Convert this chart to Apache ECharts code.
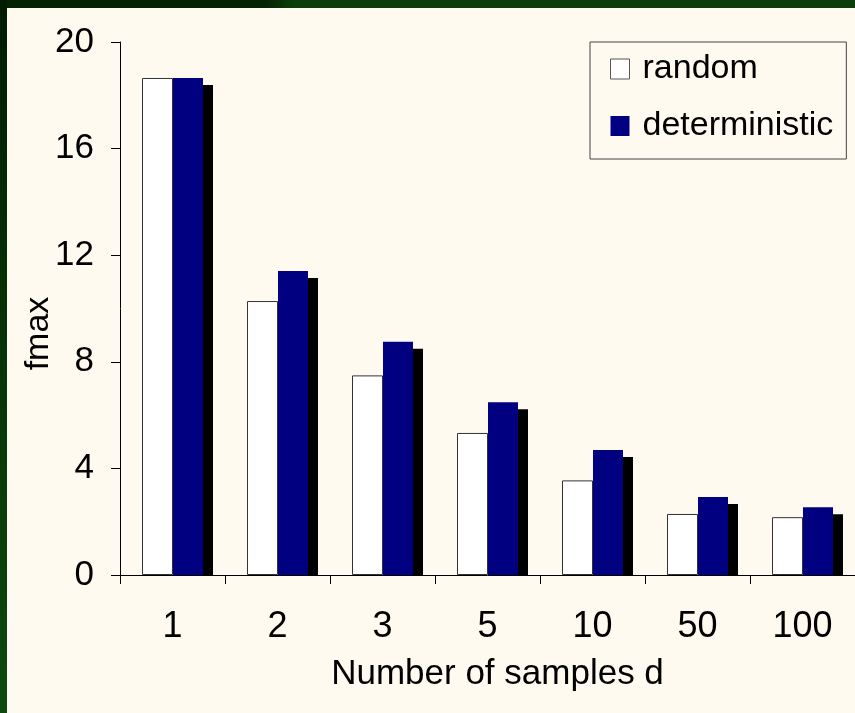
<!DOCTYPE html>
<html>
<head>
<meta charset="utf-8">
<script src="https://cdn.jsdelivr.net/npm/echarts@6/dist/echarts.min.js"></script>
<style>
  html, body { margin: 0; padding: 0; background: #FFFAF0; }
  #wrap { position: relative; width: 855px; height: 713px; overflow: hidden; background: #FFFAF0; }
  #topStrip { position: absolute; left: 0; top: 0; width: 855px; height: 8px;
    background: linear-gradient(100deg, #032303 0, #032303 262px, #0b3e0b 290px, #0b3e0b 100%); }
  #leftStrip { position: absolute; left: 0; top: 0; width: 7px; height: 713px;
    background: linear-gradient(to bottom, #021c02 0%, #073507 50%, #0e4a0e 100%); }
  #chart { position: absolute; left: 0; top: 0; width: 855px; height: 713px; }
</style>
</head>
<body>
<div id="wrap">
  <div id="chart"></div>
  <div id="topStrip"></div>
  <div id="leftStrip"></div>
</div>
<script>
const categories = ['1', '2', '3', '5', '10', '50', '100'];
const randomValues = [18.65, 10.28, 7.49, 5.33, 3.55, 2.29, 2.17];
const deterministicValues = [18.65, 11.41, 8.75, 6.48, 4.69, 2.93, 2.54];
const yMin = 0, yMax = 20, yStep = 4;

const FONT = "'Liberation Sans', Arial, sans-serif";
const chart = echarts.init(document.getElementById('chart'), null, { renderer: 'canvas' });

chart.setOption({
  backgroundColor: 'transparent',
  animation: false,
  textStyle: { fontFamily: FONT },
  grid: { left: 120, top: 42, right: -5, bottom: 138, containLabel: false },
  legend: {
    orient: 'vertical',
    left: 590, top: 42,
    padding: [10, 13, 16, 20],
    itemGap: 23,
    itemWidth: 19, itemHeight: 20,
    icon: 'rect',
    borderColor: '#444', borderWidth: 1,
    backgroundColor: 'transparent',
    textStyle: { fontFamily: FONT, fontSize: 34, color: '#000', padding: [0, 0, 0, 8] },
    itemStyle: { shadowColor: 'transparent', shadowOffsetX: 0, shadowOffsetY: 0, shadowBlur: 0 },
    data: [
      { name: 'random', itemStyle: { color: '#fff', borderColor: '#555', borderWidth: 1 } },
      { name: 'deterministic', itemStyle: { color: '#000080', borderWidth: 0 } }
    ]
  },
  xAxis: {
    type: 'category',
    data: categories,
    z: 10,
    axisLine: { show: true, lineStyle: { color: '#000', width: 1 } },
    axisTick: { show: true, length: 9, lineStyle: { color: '#000' } },
    axisLabel: { fontFamily: FONT, fontSize: 36, color: '#000', margin: 34 },
    name: 'Number of samples d',
    nameLocation: 'middle',
    nameGap: 82,
    nameTextStyle: { fontFamily: FONT, fontSize: 35, color: '#000', padding: [0, 0, 0, 20] }
  },
  yAxis: {
    type: 'value',
    min: yMin, max: yMax, interval: yStep,
    z: 10,
    axisLine: { show: true, lineStyle: { color: '#000', width: 1 } },
    axisTick: { show: true, length: 9, lineStyle: { color: '#000' } },
    axisLabel: { fontFamily: FONT, fontSize: 35, color: '#000', margin: 26 },
    splitLine: { show: false },
    name: 'fmax',
    nameLocation: 'middle',
    nameGap: 64,
    nameMoveOverlap: false,
    nameTextStyle: { fontFamily: FONT, fontSize: 34, color: '#000', padding: [0, 50, 0, 0] }
  },
  graphic: [{
    type: 'rect',
    z: 5,
    shape: { x: 121, y: 576, width: 740, height: 10 },
    style: { fill: '#FFFAF0' },
    silent: true
  }],
  series: [
    {
      name: 'random',
      type: 'bar',
      data: randomValues,
      barWidth: 31,
      barGap: '0%',
      itemStyle: { color: '#fff', borderColor: '#333', borderWidth: 1 },
      emphasis: { disabled: true }
    },
    {
      name: 'deterministic',
      type: 'bar',
      data: deterministicValues,
      barWidth: 30,
      itemStyle: {
        color: '#000080',
        shadowColor: '#000',
        shadowBlur: 0,
        shadowOffsetX: 10,
        shadowOffsetY: 7
      },
      emphasis: { disabled: true }
    }
  ]
});
</script>
</body>
</html>
